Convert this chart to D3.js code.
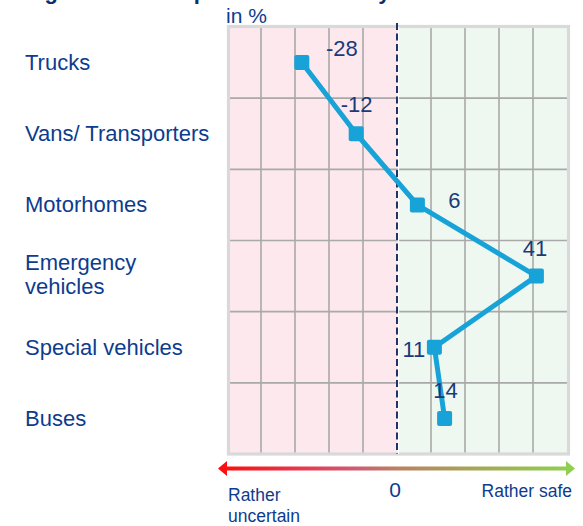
<!DOCTYPE html>
<html>
<head>
<meta charset="utf-8">
<script src="https://cdn.jsdelivr.net/npm/d3@7/dist/d3.min.js"></script>
<style>
  html, body { margin: 0; padding: 0; background: #ffffff; }
  svg { display: block; font-family: "Liberation Sans", Arial, sans-serif; }
</style>
</head>
<body>
<svg id="chart" width="583" height="526"></svg>
<script>
// ---- data ----
const categories = ["Trucks", "Vans/ Transporters", "Motorhomes", "Emergency vehicles", "Special vehicles", "Buses"];
const values = [-28, -12, 6, 41, 11, 14];
const xTicks = [-50, -40, -30, -20, -10, 0, 10, 20, 30, 40, 50];
const titleText = "Figure: Sales expectations 2024 by vehicle class";
const unitLabel = "in %";
const leftLabel = ["Rather", "uncertain"];
const rightLabel = "Rather safe";
const zeroLabel = "0";

// ---- styling / layout ----
const labelOffsets = [[40, -6.5], [0.5, -22], [37, 3], [-1.5, -20.5], [-20.5, 10], [1, -20.5]];
const plot = { x0: 227, x1: 567, y0: 27, y1: 454 };
const textBlue = "#0d3c8e";
const labelNavy = "#1a3a78";
const lineBlue = "#17a2d8";

const svg = d3.select("#chart");

const x = d3.scaleLinear().domain([-50, 50]).range([plot.x0, plot.x1]);
const y = d3.scaleBand().domain(categories).range([plot.y0, plot.y1]).padding(0);

// Title (clipped at the top, as in reference)
svg.append("text")
  .attr("x", 25).attr("y", -1)
  .attr("font-size", 22).attr("font-weight", "bold")
  .attr("fill", "#0b2f6b")
  .text(titleText);

// backgrounds
svg.append("rect")
  .attr("x", x(-50)).attr("y", plot.y0)
  .attr("width", x(0) - x(-50)).attr("height", plot.y1 - plot.y0)
  .attr("fill", "#fde8ee");
svg.append("rect")
  .attr("x", x(0)).attr("y", plot.y0)
  .attr("width", x(50) - x(0)).attr("height", plot.y1 - plot.y0)
  .attr("fill", "#eef8f0");

// vertical grid lines
svg.append("g").selectAll("line")
  .data(xTicks.filter(t => t !== 0 && Math.abs(t) !== 50))
  .join("line")
  .attr("x1", d => x(d)).attr("x2", d => x(d))
  .attr("y1", plot.y0).attr("y2", plot.y1)
  .attr("stroke", "#a9a9a9").attr("stroke-width", 1.6);

// horizontal grid lines (band boundaries)
svg.append("g").selectAll("line")
  .data(categories.slice(1))
  .join("line")
  .attr("x1", plot.x0).attr("x2", plot.x1)
  .attr("y1", d => y(d)).attr("y2", d => y(d))
  .attr("stroke", "#a9a9a9").attr("stroke-width", 1.6);

// outer border
svg.append("rect")
  .attr("x", plot.x0 + 1.5).attr("y", plot.y0 - 0.5)
  .attr("width", plot.x1 - plot.x0).attr("height", plot.y1 - plot.y0 + 0.5)
  .attr("fill", "none").attr("stroke", "#d9d9d9").attr("stroke-width", 3.2);

// zero line (white underlay + dashed navy)
svg.append("line")
  .attr("x1", x(0) + 1.5).attr("x2", x(0) + 1.5)
  .attr("y1", plot.y0).attr("y2", plot.y1)
  .attr("stroke", "#ffffff").attr("stroke-width", 1.2);
svg.append("line")
  .attr("x1", x(0)).attr("x2", x(0))
  .attr("y1", plot.y0 - 4).attr("y2", plot.y1)
  .attr("stroke", "#1f3566").attr("stroke-width", 2)
  .attr("stroke-dasharray", "7,3.5");

// unit label
svg.append("text")
  .attr("x", 226).attr("y", 23)
  .attr("font-size", 21).attr("fill", textBlue)
  .text(unitLabel);

// category labels
const catG = svg.append("g");
categories.forEach(c => {
  const cy = y(c) + y.bandwidth() / 2;
  const words = c === "Emergency vehicles" ? ["Emergency", "vehicles"] : [c];
  const t = catG.append("text")
    .attr("x", 25)
    .attr("font-size", 22).attr("fill", textBlue);
  if (words.length === 1) {
    t.attr("y", cy + 7.5).text(c);
  } else {
    t.attr("y", cy - 6);
    t.append("tspan").attr("x", 25).attr("y", cy - 6).text(words[0]);
    t.append("tspan").attr("x", 25).attr("y", cy + 17.5).text(words[1]);
  }
});

// line
const pts = categories.map((c, i) => ({ c, v: values[i], i }));
const line = d3.line()
  .x(d => x(d.v))
  .y(d => y(d.c) + y.bandwidth() / 2);
svg.append("path")
  .datum(pts)
  .attr("d", line)
  .attr("fill", "none")
  .attr("stroke", lineBlue)
  .attr("stroke-width", 5)
  .attr("stroke-linejoin", "round");

// markers
const ms = 15;
svg.append("g").selectAll("rect")
  .data(pts)
  .join("rect")
  .attr("x", d => x(d.v) - ms / 2)
  .attr("y", d => y(d.c) + y.bandwidth() / 2 - ms / 2)
  .attr("width", ms).attr("height", ms)
  .attr("rx", 2)
  .attr("fill", lineBlue);

// value labels
svg.append("g").selectAll("text")
  .data(pts)
  .join("text")
  .attr("x", d => x(d.v) + labelOffsets[d.i][0])
  .attr("y", d => y(d.c) + y.bandwidth() / 2 + labelOffsets[d.i][1])
  .attr("text-anchor", "middle")
  .attr("font-size", 22)
  .attr("fill", labelNavy)
  .text(d => d.v);

// gradient arrow
const defs = svg.append("defs");
const grad = defs.append("linearGradient")
  .attr("id", "arrowGrad")
  .attr("gradientUnits", "userSpaceOnUse")
  .attr("x1", 218).attr("x2", 575).attr("y1", 0).attr("y2", 0);
[[0, "#ff0a0a"], [0.22, "#e8364a"], [0.38, "#d05a72"], [0.5, "#bb8063"], [0.68, "#a9a058"], [1, "#8ed24e"]]
  .forEach(([o, c]) => grad.append("stop").attr("offset", o).attr("stop-color", c));

const ay = 468.5;
const arrowPath = d3.path();
arrowPath.moveTo(218, ay);
arrowPath.lineTo(227, ay - 7.5);
arrowPath.lineTo(227, ay - 2);
arrowPath.lineTo(566, ay - 2);
arrowPath.lineTo(566, ay - 7.5);
arrowPath.lineTo(575, ay);
arrowPath.lineTo(566, ay + 7.5);
arrowPath.lineTo(566, ay + 2);
arrowPath.lineTo(227, ay + 2);
arrowPath.lineTo(227, ay + 7.5);
arrowPath.closePath();
svg.append("path")
  .attr("d", arrowPath.toString())
  .attr("fill", "url(#arrowGrad)");

// bottom labels
svg.append("text")
  .attr("x", 228).attr("y", 501)
  .attr("font-size", 17.5).attr("fill", textBlue)
  .text(leftLabel[0]);
svg.append("text")
  .attr("x", 228).attr("y", 521.5)
  .attr("font-size", 17.5).attr("fill", textBlue)
  .text(leftLabel[1]);
svg.append("text")
  .attr("x", 395).attr("y", 497)
  .attr("text-anchor", "middle")
  .attr("font-size", 21).attr("fill", textBlue)
  .text(zeroLabel);
svg.append("text")
  .attr("x", 572).attr("y", 497)
  .attr("text-anchor", "end")
  .attr("font-size", 17.5).attr("fill", textBlue)
  .text(rightLabel);
</script>
</body>
</html>
